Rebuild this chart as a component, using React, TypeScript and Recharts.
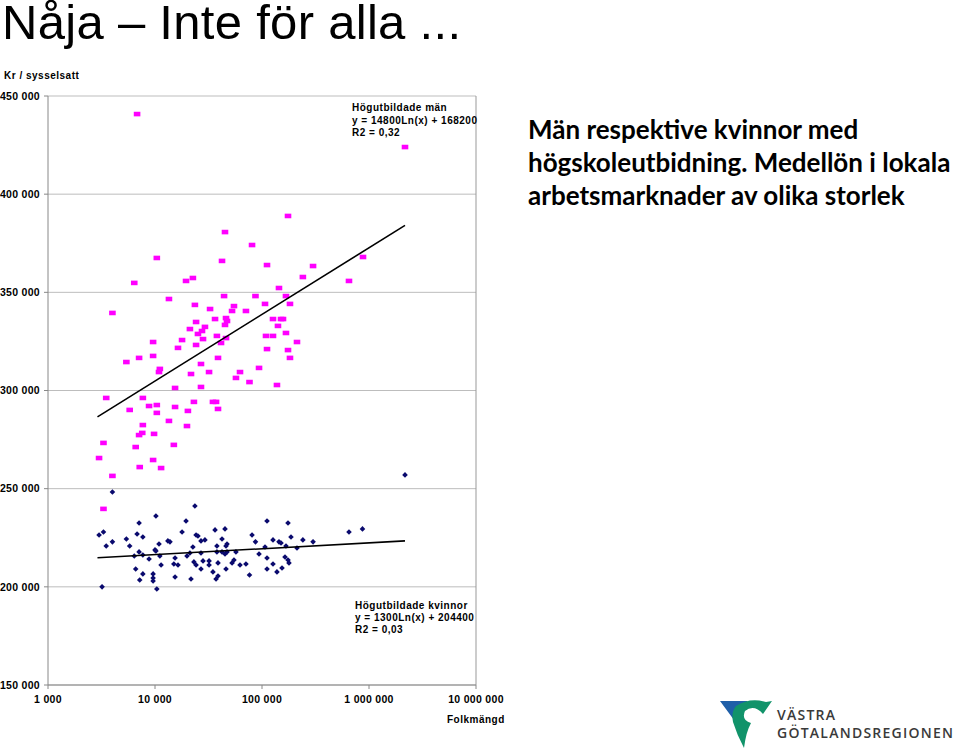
import { ScatterChart, Scatter, XAxis, YAxis, CartesianGrid, ReferenceLine } from 'recharts';

// Folkmängd (log) and Kr / sysselsatt
const menPop = [6800, 2170000, 175000, 45100, 80700, 10400, 42300, 111400, 300000, 241000, 6400, 19500, 22600, 144100, 13500, 44200, 86900, 167500, 4000, 23600, 32700, 54700, 52500, 70800, 106700, 182600, 36400, 46100, 47100, 24200, 126700, 150600, 157100, 141000, 45100, 21200, 29300, 27500, 25200, 37900, 46100, 41400, 28100, 109000, 126700, 167500, 212300, 111400, 175000, 182600, 9600, 17900, 24200, 16400, 9600, 7100, 5400, 38800, 26900, 11100, 10900, 21700, 32000, 62300, 57100, 93800, 76400, 138000, 15400, 26900, 3500, 7700, 5800, 8800, 10400, 10400, 15400, 23100, 20300, 34800, 37200, 38800, 13500, 19900, 7700, 7600, 7100, 9800, 3300, 6600, 15000, 3000, 9600, 7200, 11400, 4000, 3300, 879000, 650000];
const menPay = [440800, 424000, 388900, 380700, 374100, 367500, 366000, 363900, 363400, 357800, 354800, 355800, 357300, 352200, 346600, 348100, 348100, 348100, 339500, 343600, 341500, 343000, 340500, 340500, 344100, 344100, 336400, 336900, 335400, 334900, 336400, 336400, 336400, 332900, 333400, 331300, 332400, 330300, 328800, 327800, 326700, 324200, 326200, 327800, 327800, 329300, 324700, 321100, 320600, 316600, 324700, 325700, 323200, 321700, 317600, 316600, 314500, 316600, 313500, 311000, 309400, 308400, 309400, 309400, 306400, 311500, 304300, 302800, 301300, 301800, 296200, 296200, 290100, 292100, 292600, 288600, 291600, 294200, 289600, 294200, 294200, 290600, 284500, 281900, 282400, 278400, 277300, 277900, 273300, 271200, 272300, 265600, 264600, 261000, 260500, 256500, 239700, 368000, 355800];

const womenPop = [4000, 23600, 10200, 7100, 19500, 111400, 175000, 3000, 3300, 6800, 7700, 17900, 24200, 25200, 36400, 45100, 80700, 4000, 5400, 10900, 13200, 13800, 26900, 29300, 42300, 47100, 46100, 37900, 86900, 126700, 144100, 150600, 186600, 167500, 241000, 300000, 3500, 5800, 10000, 10200, 22600, 37900, 45100, 47100, 57100, 93800, 106700, 212300, 7100, 6400, 7700, 8800, 11100, 15400, 19900, 21200, 26900, 42300, 111400, 164000, 11400, 15000, 16400, 23100, 24200, 28100, 32000, 32000, 38800, 52500, 54700, 62300, 70800, 76400, 126700, 178700, 175000, 6600, 7700, 7200, 9600, 9600, 9600, 15400, 21700, 26900, 34800, 37200, 38800, 46100, 111400, 138000, 153800, 3200, 10400, 650000, 869000, 2170000];
const womenPay = [248300, 241200, 236100, 232500, 233500, 233500, 232500, 226400, 227900, 226900, 225400, 227900, 226400, 225900, 229000, 229500, 226400, 222900, 224400, 221800, 223400, 222900, 223400, 223900, 224400, 221800, 220800, 220800, 222900, 223900, 222900, 222300, 225400, 220800, 223900, 222900, 220800, 220800, 218800, 218300, 220300, 217800, 216700, 217800, 217800, 216700, 220300, 219800, 217800, 215700, 216200, 214200, 215700, 214700, 215700, 217200, 217200, 217800, 214700, 215200, 211100, 211600, 211100, 212700, 211100, 213200, 211100, 213200, 212200, 212200, 213700, 211100, 211600, 206000, 211600, 212200, 213700, 209100, 206600, 203500, 206600, 204500, 203000, 205000, 204000, 209100, 207600, 204000, 205500, 209100, 209100, 207600, 209600, 200000, 198900, 227900, 229500, 257000];

// trend line end points
const trendPop = [2900, 2170000];
const menTrendPay = [286600, 384100];
const womenTrendPay = [214800, 223400];

const xTicks = [1000, 10000, 100000, 1000000, 10000000];
const yTicks = [150000, 200000, 250000, 300000, 350000, 400000, 450000];

const men = menPop.map((pop, i) => ({ pop, pay: menPay[i] }));
const women = womenPop.map((pop, i) => ({ pop, pay: womenPay[i] }));
const menTrend = trendPop.map((pop, i) => ({ pop, pay: menTrendPay[i] }));
const womenTrend = trendPop.map((pop, i) => ({ pop, pay: womenTrendPay[i] }));

const FONT = '"Liberation Sans", Arial, sans-serif';
const fmt = (n: number) => String(n).replace(/\B(?=(\d{3})+(?!\d))/g, ' ');

const ManMark = (p: any) => (
  <rect x={p.cx - 3.3} y={p.cy - 2.3} width={6.6} height={4.6} fill="#ff00ff" />
);

const WomanMark = (p: any) => {
  const { cx, cy } = p;
  const r = 2.8;
  return <polygon points={`${cx},${cy - r} ${cx + r},${cy} ${cx},${cy + r} ${cx - r},${cy}`} fill="#0a0a6e" />;
};

const Nothing = () => <g />;

const YTick = ({ x, y, payload }: any) => (
  <text x={x} y={y} dy="0.355em" textAnchor="end" fontFamily={FONT} fontSize={10.5} fontWeight={700} letterSpacing={0.3} fill="#000">
    {fmt(payload.value)}
  </text>
);

const XTick = ({ x, y, payload }: any) => (
  <text x={x} y={y} dy="0.71em" textAnchor="middle" fontFamily={FONT} fontSize={10.5} fontWeight={700} letterSpacing={0.3} fill="#000">
    {fmt(payload.value)}
  </text>
);

export default function App() {
  const note = { fontFamily: FONT, fontSize: 10, fontWeight: 700, letterSpacing: 0.5, fill: '#000' } as const;
  return (
    <div style={{ position: 'absolute', left: 0, top: 0, width: 960, height: 751, background: '#fff' }}>
      <ScatterChart
        width={520}
        height={751}
        margin={{ top: 96, right: 44, bottom: 36, left: 0 }}
        style={{ position: 'absolute', left: 0, top: 0 }}
      >
        <CartesianGrid vertical={false} stroke="#bdbdbd" />
        <XAxis
          type="number"
          dataKey="pop"
          scale="log"
          domain={[1000, 10000000]}
          ticks={xTicks}
          allowDataOverflow
          height={30}
          stroke="#888"
          tickSize={4}
          tickMargin={7}
          tick={<XTick />}
        />
        <YAxis
          type="number"
          dataKey="pay"
          domain={[150000, 450000]}
          ticks={yTicks}
          allowDataOverflow
          width={48}
          stroke="#888"
          tickSize={4}
          tickMargin={4}
          tick={<YTick />}
        />
        <ReferenceLine x={10000000} stroke="#999" />
        <Scatter data={men} shape={<ManMark />} isAnimationActive={false} />
        <Scatter data={women} shape={<WomanMark />} isAnimationActive={false} />
        <Scatter data={menTrend} shape={<Nothing />} line={{ stroke: '#000', strokeWidth: 1.6 }} isAnimationActive={false} />
        <Scatter data={womenTrend} shape={<Nothing />} line={{ stroke: '#000', strokeWidth: 1.6 }} isAnimationActive={false} />
      </ScatterChart>

      <svg width={960} height={751} style={{ position: 'absolute', left: 0, top: 0, pointerEvents: 'none' }}>
        <text x={2} y={39} fontFamily={FONT} fontSize={49} letterSpacing={0.3} fill="#000">Nåja – Inte för alla ...</text>

        <text x={4} y={79} {...note}>Kr / sysselsatt</text>
        <text x={447} y={723} {...note}>Folkmängd</text>

        <text x={352} y={111} {...note}>Högutbildade män</text>
        <text x={352} y={123.5} {...note}>y = 14800Ln(x) + 168200</text>
        <text x={352} y={136} {...note}>R2 = 0,32</text>

        <text x={355} y={609} {...note}>Högutbildade kvinnor</text>
        <text x={355} y={621} {...note}>y = 1300Ln(x) + 204400</text>
        <text x={355} y={633} {...note}>R2 = 0,03</text>

        <g fontFamily="Lato, sans-serif" fontSize={26} fontWeight={700} fill="#000">
          <text x={528} y={139}>Män respektive kvinnor med</text>
          <text x={528} y={172}>högskoleutbidning. Medellön i lokala</text>
          <text x={528} y={205}>arbetsmarknader av olika storlek</text>
        </g>

        <path d="M720,701 L748,701 Q738,708 734,720 Z" fill="#1f5fa8" />
        <path d="M736,706 Q750,697 766,702 L772,701 L763,714 Q754,704 745,711 Q741,720 751,723 Q746,732 744,748 Q737,735 733,722 Q731,712 736,706 Z" fill="#11936a" />
        <g fontFamily="'Open Sans', sans-serif" fontWeight={600} fill="#3a3a3a">
          <text x={777} y={720} fontSize={14} textLength={58}>VÄSTRA</text>
          <text x={777} y={738} fontSize={14} textLength={176}>GÖTALANDSREGIONEN</text>
        </g>
      </svg>
    </div>
  );
}
